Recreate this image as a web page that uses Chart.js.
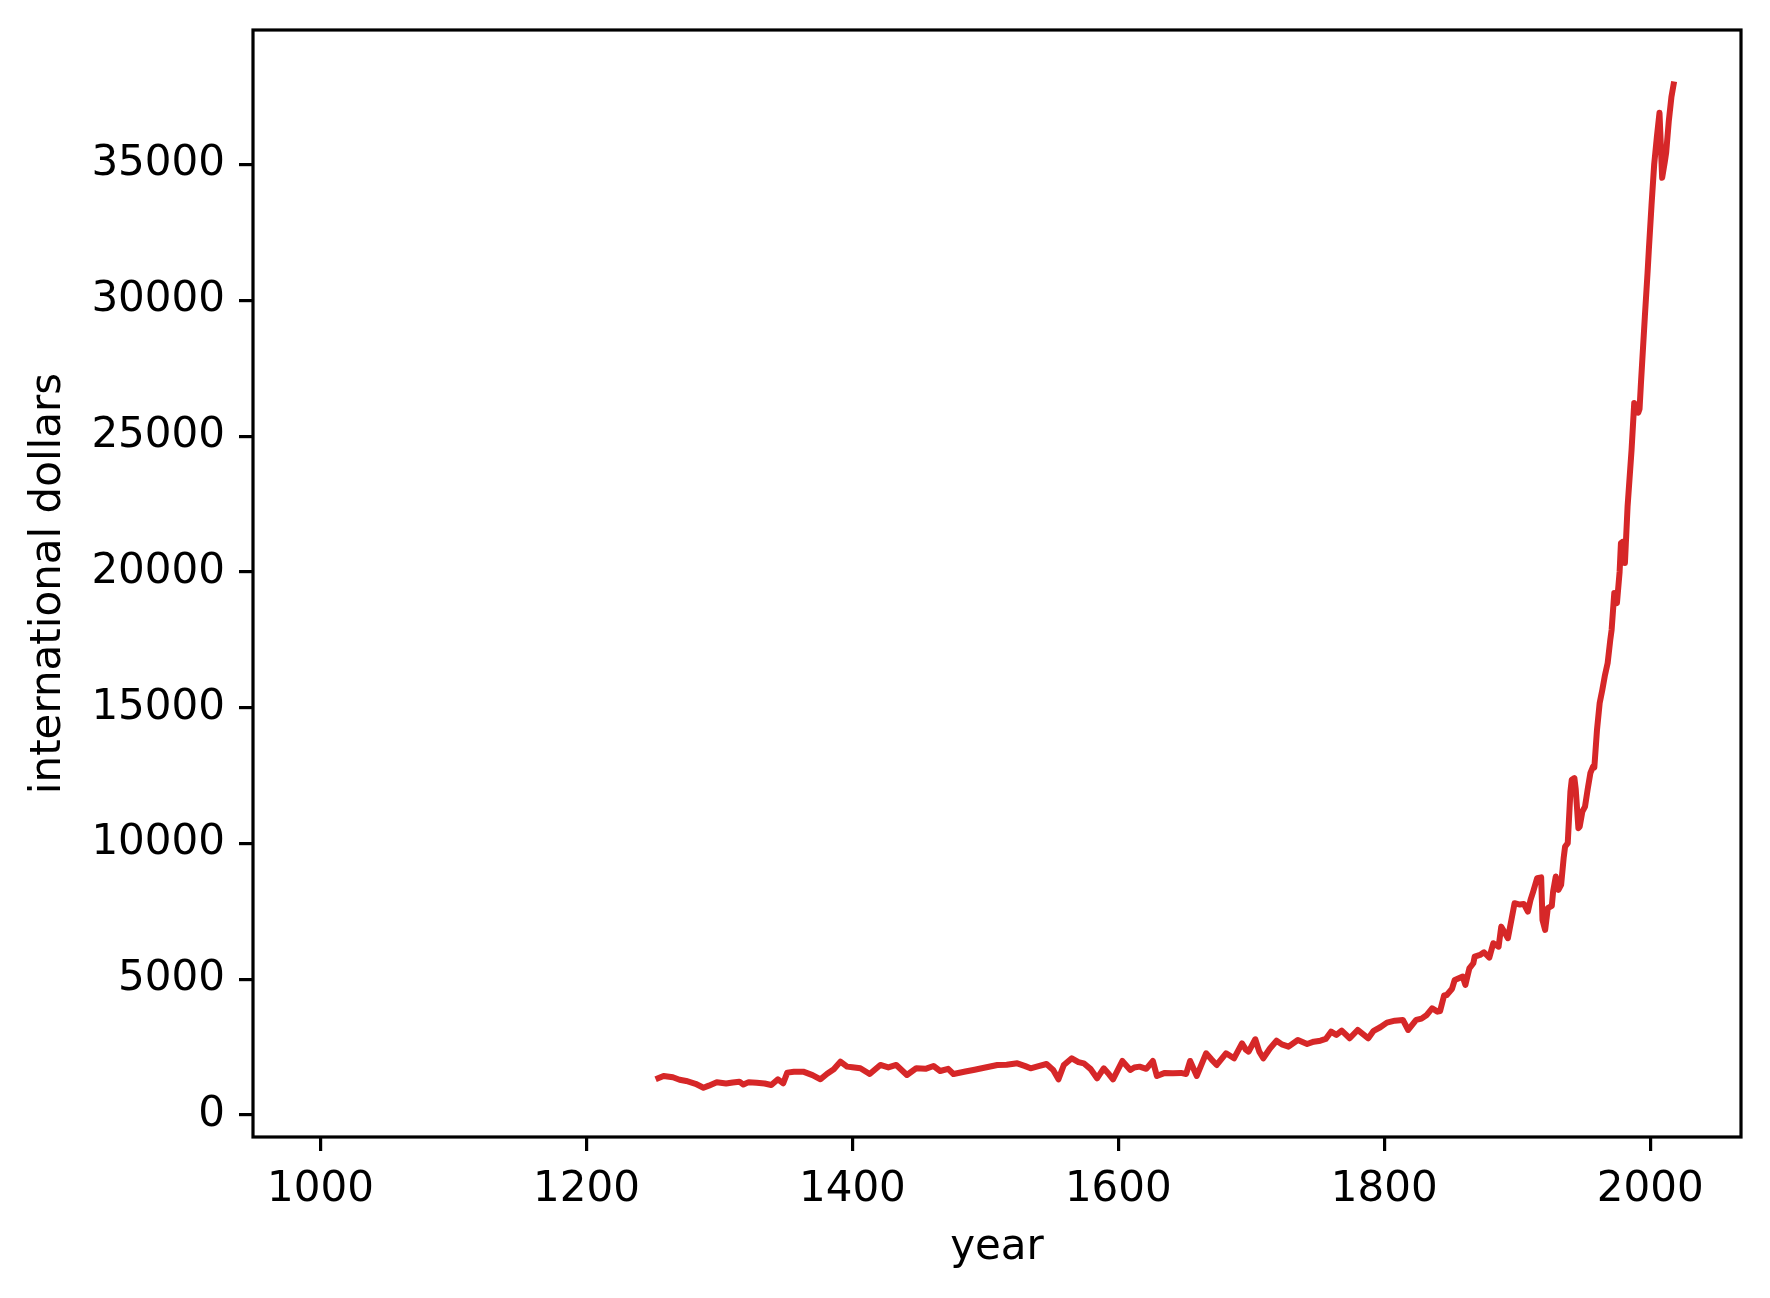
<!DOCTYPE html>
<html>
<head>
<meta charset="utf-8">
<script src="https://cdn.jsdelivr.net/npm/chart.js@4/dist/chart.umd.min.js"></script>
<style>
  html, body { margin: 0; padding: 0; background: #fff; }
  canvas { display: block; }
</style>
</head>
<body>
<canvas id="myChart" width="1770" height="1298"></canvas>
<script>
// GDP per capita
const years = [
  1252, 1258, 1265, 1270, 1275, 1282, 1288, 1292, 1298, 1305, 1310, 1315, 1318, 1322, 1328, 1334, 1339, 1344, 1348,
  1351, 1356, 1363, 1370, 1376, 1381, 1386, 1391, 1396, 1400, 1406, 1413, 1421, 1427, 1433, 1441, 1448, 1455, 1461,
  1466, 1472, 1476, 1485, 1491, 1500, 1509, 1516, 1524, 1530, 1534, 1540, 1546, 1551, 1555, 1559, 1565, 1570, 1574,
  1579, 1584, 1589, 1593, 1596, 1603, 1609, 1612, 1616, 1621, 1626, 1629, 1635, 1641, 1647, 1651, 1654, 1659, 1666,
  1670, 1674, 1681, 1687, 1693, 1696, 1698, 1703, 1706, 1709, 1714, 1719, 1723, 1728, 1735, 1742, 1747, 1752, 1756,
  1760, 1764, 1768, 1774, 1780, 1788, 1792, 1797, 1802, 1808, 1814, 1818, 1824, 1828, 1832, 1836, 1840, 1842, 1845,
  1847, 1851, 1853, 1859, 1861, 1864, 1867, 1868, 1872, 1875, 1879, 1882, 1886, 1888, 1893, 1898, 1902, 1905, 1908,
  1910, 1912, 1915, 1918, 1919, 1921, 1923, 1926, 1927, 1929, 1931, 1933, 1935, 1936, 1938, 1940, 1941, 1943, 1944,
  1946, 1947, 1949, 1951, 1953, 1955, 1957, 1958, 1960, 1962, 1964, 1966, 1968, 1970, 1971, 1973, 1975, 1977, 1978,
  1979, 1981, 1983, 1986, 1988, 1990, 1991, 1992, 1993, 1996, 1998, 1999, 2001, 2003, 2005, 2007, 2009, 2011, 2012,
  2014, 2016, 2018
];
const gdp = [
  1315, 1437, 1389, 1300, 1253, 1150, 1006, 1080, 1204, 1160, 1200, 1228, 1120, 1210, 1191, 1160, 1105, 1315, 1167,
  1560, 1590, 1597, 1470, 1315, 1520, 1683, 1965, 1781, 1760, 1720, 1511, 1842, 1750, 1842, 1474, 1720, 1700, 1805,
  1621, 1700, 1511, 1600, 1658, 1750, 1842, 1850, 1904, 1800, 1720, 1800, 1879, 1658, 1315, 1842, 2088, 1950, 1904,
  1700, 1352, 1720, 1500, 1315, 1989, 1658, 1750, 1781, 1700, 1989, 1437, 1550, 1536, 1550, 1511, 1989, 1437, 2273,
  2050, 1842, 2273, 2088, 2641, 2400, 2333, 2789, 2333, 2088, 2450, 2737, 2600, 2516, 2763, 2616, 2700, 2737, 2800,
  3069, 2950, 3106, 2826, 3131, 2826, 3100, 3231, 3401, 3475, 3500, 3131, 3500, 3550, 3684, 3931, 3806, 3830, 4400,
  4420, 4650, 4974, 5096, 4789, 5400, 5589, 5832, 5895, 5994, 5795, 6326, 6201, 6937, 6510, 7800, 7750, 7774, 7490,
  7921, 8227, 8720, 8750, 7184, 6816, 7615, 7700, 8227, 8780, 8289, 8474, 9500, 9885, 10010, 11900, 12342, 12405, 12000,
  10563, 10622, 11175, 11358, 12000, 12589, 12832, 12800, 14184, 15168, 15658, 16200, 16641, 17500, 17868, 19221, 18852, 20000, 21062,
  21100, 20325, 22411, 24500, 26220, 26000, 25863, 26000, 26900, 29411, 31000, 31868, 33500, 35000, 36000, 36905, 34510, 35100, 35430,
  36600, 37500, 38058
];
const xTicks = [1000, 1200, 1400, 1600, 1800, 2000];
const yTicks = [0, 5000, 10000, 15000, 20000, 25000, 30000, 35000];

const font = { family: "'DejaVu Sans', sans-serif", size: 42 };

const frame = {
  id: 'frame',
  afterDraw(chart) {
    const { ctx, chartArea: a } = chart;
    ctx.save();
    ctx.strokeStyle = '#000';
    ctx.lineWidth = 3.2;
    ctx.strokeRect(a.left, a.top, a.right - a.left, a.bottom - a.top);
    ctx.restore();
  }
};

const info = {
  datasets: [
    {
      data: years.map((y, i) => ({ x: y, y: gdp[i] })),
      borderColor: '#d62728',
      borderWidth: 6,
      pointRadius: 0,
      tension: 0,
      borderJoinStyle: 'round',
      fill: false
    }
  ]
};

const options = {
  responsive: false,
  animation: false,
  layout: { padding: { top: 30, right: 29, bottom: 0, left: 0 } },
  scales: {
    x: {
      type: 'linear',
      min: 949.2,
      max: 2068.3,
      afterBuildTicks: (s) => { s.ticks = xTicks.map((v) => ({ value: v })); },
      afterFit: (s) => { s.height = 161; s.paddingLeft = 0; s.paddingRight = 0; },
      ticks: { color: '#000', font, padding: 14, maxRotation: 0, callback: (v) => String(v) },
      grid: { drawOnChartArea: false, drawTicks: true, tickLength: 14, lineWidth: 3.2, color: '#000' },
      border: { display: false },
      title: { display: true, text: 'year', color: '#000', font, padding: { top: 0, bottom: 25 } }
    },
    y: {
      type: 'linear',
      min: -810,
      max: 39955,
      afterBuildTicks: (s) => { s.ticks = yTicks.map((v) => ({ value: v })); },
      afterFit: (s) => { s.width = 253; s.paddingTop = 0; s.paddingBottom = 0; },
      ticks: { color: '#000', font, padding: 14, callback: (v) => String(v) },
      grid: { drawOnChartArea: false, drawTicks: true, tickLength: 14, lineWidth: 3.2, color: '#000' },
      border: { display: false },
      title: { display: true, text: 'international dollars', color: '#000', font, padding: { top: 24, bottom: 0 } }
    }
  },
  plugins: {
    legend: { display: false },
    tooltip: { enabled: false }
  }
};

const myChart = new Chart(document.getElementById('myChart'), {
  type: 'line',
  data: info,
  options,
  plugins: [frame]
});
</script>
</body>
</html>
